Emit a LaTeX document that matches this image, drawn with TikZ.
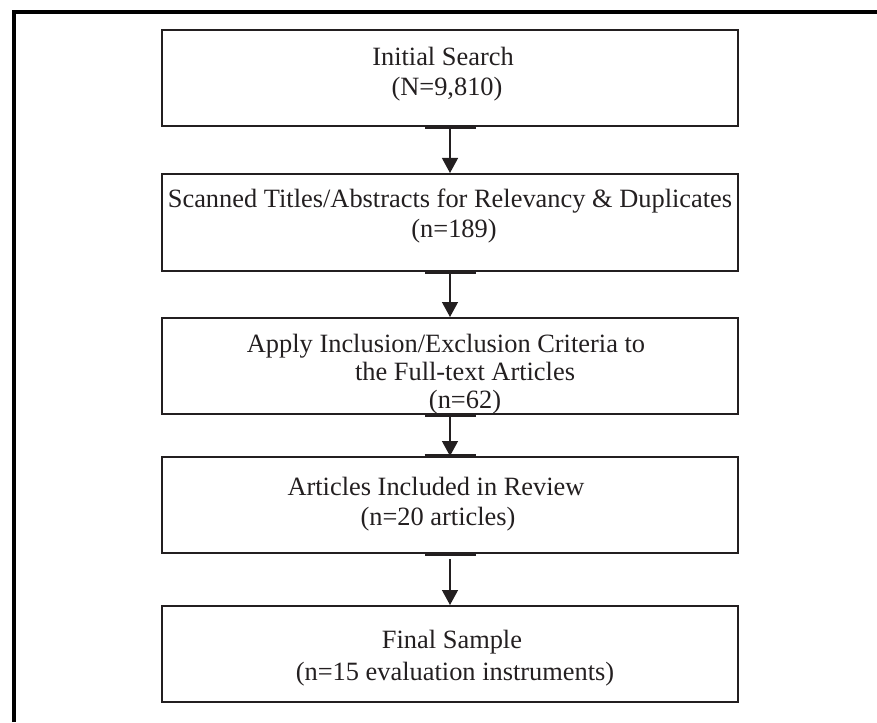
\documentclass[tikz,border=0pt]{standalone}
\usepackage{fontspec}
\setmainfont{Liberation Serif}
\usetikzlibrary{arrows.meta}
\definecolor{ink}{HTML}{231F20}
\begin{document}
\begin{tikzpicture}[x=1pt,y=-1pt,
  box/.style={draw=ink, line width=2pt, inner sep=0pt, minimum width=576pt},
  lbl/.style={anchor=base, inner sep=0pt, text=ink, font=\fontsize{26.4}{30}\selectfont},
  arr/.style={draw=ink, line width=1.3pt, -{Triangle[width=16pt,length=15pt]}},
  stub/.style={draw=ink, line width=3.1pt},
  frame/.style={draw=black, line width=3.8pt}]
\useasboundingbox (0,0) rectangle (877,722);
% outer frame
\coordinate (fa) at (13.7,722);
\coordinate (fb) at (13.7,12);
\coordinate (fc) at (877,12);
\draw[frame] (fa) -- (fb) -- (fc);
% boxes
\node[box, minimum height=96pt] (b1) at (450,78) {};
\node[box, minimum height=97pt] (b2) at (450,222.5) {};
\node[box, minimum height=96pt] (b3) at (450,366) {};
\node[box, minimum height=96pt] (b4) at (450,505) {};
\node[box, minimum height=96pt] (b5) at (450,654) {};
% texts
\node[lbl] (t1a) at (443,66) {Initial Search};
\node[lbl] (t1b) at (447,96) {(N=9,810)};
\node[lbl] (t2a) at (450,207) {Scanned Titles/Abstracts for Relevancy \& Duplicates};
\node[lbl] (t2b) at (454,237) {(n=189)};
\node[lbl] (t3a) at (446,352) {Apply Inclusion/Exclusion Criteria to};
\node[lbl] (t3b) at (465,380) {the Full-text Articles};
\node[lbl] (t3c) at (465,408) {(n=62)};
\node[lbl] (t4a) at (436,495) {Articles Included in Review};
\node[lbl] (t4b) at (438,525) {(n=20 articles)};
\node[lbl] (t5a) at (452,648) {Final Sample};
\node[lbl] (t5b) at (455,680) {(n=15 evaluation instruments)};
% thick stubs where connectors meet boxes
\foreach \b in {b1,b2,b3,b4}{
  \draw[stub] ([xshift=-25.5pt]\b.south) -- ([xshift=25.5pt]\b.south);
}
\draw[stub] ([xshift=-25.5pt]b4.north) -- ([xshift=25.5pt]b4.north);
% connectors
\draw[arr] (b1.south) -- (b2.north);
\draw[arr] (b2.south) -- (b3.north);
\draw[arr] (b3.south) -- (b4.north);
\draw[arr] ([yshift=-5pt]b4.south) -- (b5.north);
\end{tikzpicture}
\end{document}
